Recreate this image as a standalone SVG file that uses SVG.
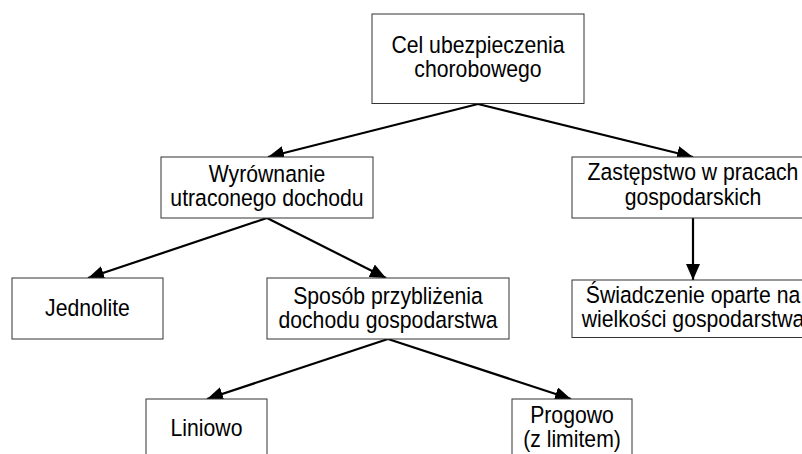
<svg xmlns="http://www.w3.org/2000/svg" width="802" height="454" viewBox="0 0 802 454">
<defs>
<marker id="ah" markerUnits="userSpaceOnUse" markerWidth="16" markerHeight="14" refX="16" refY="7" orient="auto" viewBox="0 0 16 14">
<path d="M0,0 L16,7 L0,14 z" fill="#000"/>
</marker>
<style>
.box{fill:#fff;stroke:#333;stroke-width:1}
.t{font-family:"Liberation Sans",Arial,sans-serif;font-size:23.3px;fill:#000;text-anchor:middle;transform-box:fill-box;transform-origin:center;transform:scaleX(0.91)}
.c{stroke:#000;stroke-width:2.2;fill:none;marker-end:url(#ah)}
</style>
</defs>
<rect width="802" height="454" fill="#fff"/>
<g id="connectors">
<line class="c" x1="478" y1="104" x2="268" y2="157"/>
<line class="c" x1="478" y1="104" x2="693" y2="157"/>
<line class="c" x1="267" y1="218" x2="88" y2="278"/>
<line class="c" x1="267" y1="218" x2="386" y2="278"/>
<line class="c" x1="388" y1="339" x2="207" y2="399"/>
<line class="c" x1="388" y1="339" x2="571" y2="399"/>
<line class="c" x1="693" y1="218" x2="693" y2="280"/>
</g>
<g id="cel">
<rect class="box" x="372" y="14" width="212" height="89.5"/>
<text class="t" x="478" y="53.5">Cel ubezpieczenia</text>
<text class="t" x="478" y="77">chorobowego</text>
</g>
<g id="wyrownanie">
<rect class="box" x="161" y="157" width="212" height="61"/>
<text class="t" x="267" y="182">Wyrównanie</text>
<text class="t" x="267" y="206.5">utraconego dochodu</text>
</g>
<g id="zastepstwo">
<rect class="box" x="572" y="157" width="242" height="61"/>
<text class="t" x="693" y="180.5">Zastępstwo w pracach</text>
<text class="t" x="693" y="205">gospodarskich</text>
</g>
<g id="jednolite">
<rect class="box" x="12" y="278" width="151" height="61"/>
<text class="t" x="87.5" y="316">Jednolite</text>
</g>
<g id="sposob">
<rect class="box" x="267" y="278" width="242" height="61"/>
<text class="t" x="388" y="304">Sposób przybliżenia</text>
<text class="t" x="388" y="328.5">dochodu gospodarstwa</text>
</g>
<g id="swiadczenie">
<rect class="box" x="572" y="280" width="242" height="57.5"/>
<text class="t" x="693" y="303">Świadczenie oparte na</text>
<text class="t" x="693" y="327.5">wielkości gospodarstwa</text>
</g>
<g id="liniowo">
<rect class="box" x="146" y="399" width="121" height="61"/>
<text class="t" x="206.5" y="436">Liniowo</text>
</g>
<g id="progowo">
<rect class="box" x="512" y="399" width="120" height="61"/>
<text class="t" x="572" y="423">Progowo</text>
<text class="t" x="572" y="447.5">(z limitem)</text>
</g>
</svg>
